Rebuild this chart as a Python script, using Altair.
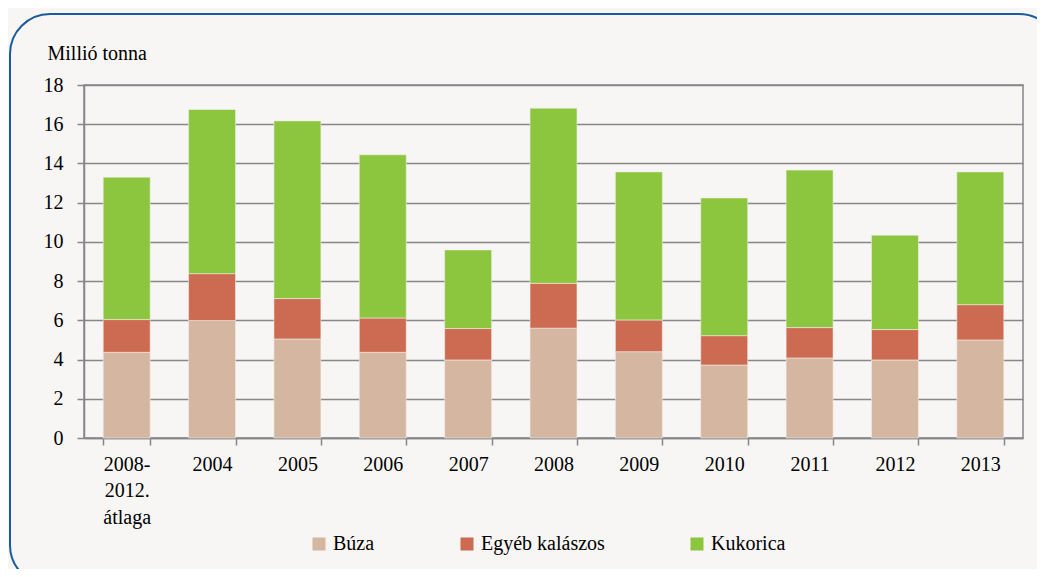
import altair as alt
import pandas as pd

categories = ["2008-\n2012.\nátlaga", "2004", "2005", "2006", "2007", "2008",
              "2009", "2010", "2011", "2012", "2013"]
series = ["Búza", "Egyéb kalászos", "Kukorica"]
buza = [4.37, 5.99, 5.05, 4.37, 3.98, 5.60, 4.40, 3.72, 4.08, 3.98, 5.00]
egyeb = [1.67, 2.39, 2.06, 1.75, 1.60, 2.29, 1.62, 1.50, 1.55, 1.55, 1.80]
kukorica = [7.26, 8.37, 9.06, 8.32, 4.01, 8.93, 7.55, 7.02, 8.03, 4.81, 6.77]
colors = ["#d5b6a0", "#cd6b52", "#8cc63f"]

rows = []
for i, c in enumerate(categories):
    for k, (s, vals) in enumerate(zip(series, [buza, egyeb, kukorica])):
        rows.append({"cat": c, "series": s, "value": vals[i], "ord": k})
df = pd.DataFrame(rows)

FONT = "Times New Roman, Liberation Serif, DejaVu Serif, serif"
GRAY = "#87878a"
W, H = 939, 353

frame = alt.Chart(pd.DataFrame({"a": [0]})).mark_rect(
    fill="#f7f6f4", fillOpacity=0, stroke="#1b5c9e", strokeWidth=2, cornerRadius=40
).encode(
    x=alt.value(-74), x2=alt.value(975), y=alt.value(-71), y2=alt.value(500)
)

bars = alt.Chart(df).mark_bar(stroke="#f0ece6", strokeWidth=0.6).encode(
    x=alt.X("cat:N", sort=categories,
            scale=alt.Scale(paddingInner=0.45, paddingOuter=0.225),
            axis=alt.Axis(title=None, labelAngle=0, tickBand="extent",
                          labelExpr="split(datum.label, '\\n')",
                          labelLineHeight=26.5, labelBaseline="top",
                          labelPadding=9, tickSize=7, grid=False,
                          labelFont=FONT, labelFontSize=20, labelColor="#000",
                          domainColor=GRAY, domainWidth=1.5,
                          tickColor=GRAY, tickWidth=1.5)),
    y=alt.Y("value:Q", stack="zero",
            scale=alt.Scale(domain=[0, 18], nice=False),
            axis=alt.Axis(title="Millió tonna", values=list(range(0, 19, 2)),
                          titleAngle=0, titleAlign="left", titleBaseline="alphabetic",
                          titleX=-37, titleY=-26, titleFontWeight="normal",
                          labelPadding=14, tickSize=7, grid=True,
                          labelFont=FONT, titleFont=FONT,
                          labelFontSize=20, titleFontSize=20,
                          labelColor="#000", titleColor="#000",
                          domainColor=GRAY, domainWidth=1.5,
                          tickColor=GRAY, tickWidth=1.5,
                          gridColor=GRAY, gridWidth=1.5, gridOpacity=1)),
    color=alt.Color("series:N", sort=series,
                    scale=alt.Scale(domain=series, range=colors),
                    legend=alt.Legend(title=None, orient="none", direction="horizontal",
                                      legendX=225, legendY=449, columnPadding=82,
                                      labelOffset=4, symbolType="square", symbolSize=169,
                                      symbolStrokeWidth=0, labelFontSize=20,
                                      labelFont=FONT, labelColor="#000")),
    order=alt.Order("ord:Q"),
)

chart = alt.layer(frame, bars).properties(
    width=W, height=H,
    autosize=alt.AutoSizeParams(type="none"),
    padding={"left": 76, "top": 77, "right": 14, "bottom": 131},
    background="#f7f6f4",
).configure(
    font=FONT
).configure_view(
    stroke=GRAY, strokeWidth=1.5
)

chart.save("out.html", embed_options={"renderer": "svg", "actions": False})
